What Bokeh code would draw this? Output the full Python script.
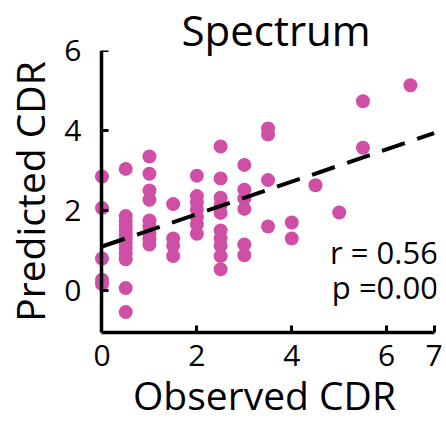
from bokeh.plotting import figure
from bokeh.models import Range1d, FixedTicker, Label, LinearAxis
from bokeh.embed import file_html
from bokeh.resources import INLINE

# Observed CDR values (grouped by column) and predicted CDR values
obs_levels = [0, 0.5, 1, 1.5, 2, 2.5, 3, 3.5, 4, 4.5, 5, 5.5, 6.5]
pred_by_level = [
    [2.85, 2.06, 0.80, 0.27, 0.16],
    [3.04, 1.86, 1.74, 1.62, 1.50, 1.40, 1.30, 1.18, 1.05, 0.92, 0.78, 0.06, -0.54],
    [3.35, 2.92, 2.50, 2.27, 1.75, 1.60, 1.42, 1.28, 1.15],
    [2.16, 1.30, 1.12, 0.86],
    [2.87, 2.36, 2.20, 2.02, 1.83, 1.65, 1.42],
    [3.60, 2.80, 2.32, 2.14, 1.94, 1.50, 1.30, 1.12, 0.86, 0.53],
    [3.14, 2.52, 2.30, 2.04, 1.15, 0.88],
    [4.05, 3.90, 2.76, 1.60],
    [1.70, 1.30],
    [2.63],
    [1.95],
    [4.73, 3.57],
    [5.13],
]
observed = [lv for lv, ys in zip(obs_levels, pred_by_level) for _ in ys]
predicted = [y for ys in pred_by_level for y in ys]

# regression fit
fit_intercept = 1.10
fit_slope = 0.405
fit_x = [0, 7]
fit_y = [fit_intercept + fit_slope * v for v in fit_x]

x_ticks = [0, 2, 4, 6, 7]
y_ticks = [0, 2, 4, 6]
r_text = "r = 0.56"
p_text = "p =0.00"

FONT = "Open Sans"
PINK = "#D04FA6"

p = figure(frame_width=344, frame_height=282, output_backend="svg",
           toolbar_location=None,
           x_range=Range1d(-0.2, 7.05), y_range=Range1d(-1.05, 6.0),
           min_border_left=92, min_border_right=10, min_border_top=50,
           min_border_bottom=0, title="Spectrum")
p.outline_line_color = None
p.grid.visible = False
p.background_fill_color = "white"
p.border_fill_color = "white"

p.title.text_font = FONT
p.title.text_font_size = "42px"
p.title.text_font_style = "normal"
p.title.text_color = "black"
p.title.align = "left"
p.title.offset = 89
p.title.standoff = -15

p.scatter(observed, predicted, size=14, color=PINK, line_color=None)
p.line(fit_x, fit_y, line_color="black", line_width=4, line_dash="24 13")

for ax in (p.xaxis[0], p.yaxis[0]):
    ax.axis_line_width = 3.5
    ax.axis_line_color = "black"
    ax.major_tick_line_width = 3
    ax.major_tick_in = 7
    ax.major_tick_out = 0
    ax.minor_tick_line_color = None
    ax.major_label_text_font = FONT
    ax.major_label_text_font_size = "30px"
    ax.major_label_text_color = "black"
    ax.axis_label_text_font = FONT
    ax.axis_label_text_font_size = "39px"
    ax.axis_label_text_font_style = "normal"
    ax.axis_label_text_color = "black"

p.xaxis.ticker = FixedTicker(ticks=x_ticks)
p.xaxis.bounds = (0, 7)
p.xaxis.axis_label = "Observed CDR"
p.xaxis.major_label_standoff = 12
p.xaxis.axis_label_standoff = -1

# y axis line and ticks sit at x = 0
p.yaxis.ticker = FixedTicker(ticks=y_ticks)
p.yaxis.bounds = (-1.05, 6)
p.yaxis.fixed_location = 0
p.yaxis.major_label_text_alpha = 0

# y tick labels and axis title in the left margin
ylab = LinearAxis(ticker=FixedTicker(ticks=y_ticks), axis_label="Predicted CDR",
                  axis_line_color=None, major_tick_line_color=None,
                  minor_tick_line_color=None, major_label_standoff=5,
                  axis_label_standoff=5,
                  major_label_text_font=FONT, major_label_text_font_size="30px",
                  major_label_text_color="black",
                  axis_label_text_font=FONT, axis_label_text_font_size="39px",
                  axis_label_text_font_style="normal", axis_label_text_color="black")
p.add_layout(ylab, "left")

p.add_layout(Label(x=7.08, y=0.965, text=r_text, text_align="right",
                   text_baseline="middle", text_font=FONT,
                   text_font_size="31px", text_color="black"))
p.add_layout(Label(x=7.08, y=0.09, text=p_text, text_align="right",
                   text_baseline="middle", text_font=FONT,
                   text_font_size="31px", text_color="black"))

open("out.html", "w").write(file_html(p, INLINE))
